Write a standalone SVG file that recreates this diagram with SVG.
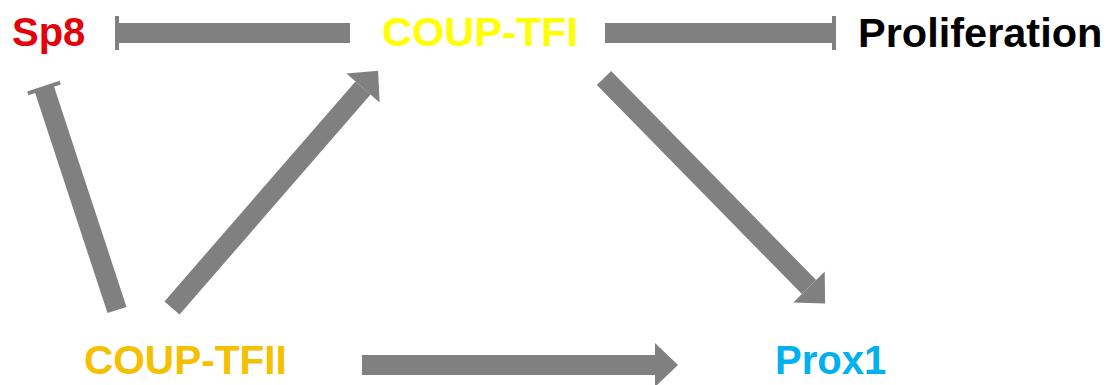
<svg xmlns="http://www.w3.org/2000/svg" width="1114" height="385" viewBox="0 0 1114 385">
<style>
  .lbl { font-family: "Liberation Sans", Arial, sans-serif; font-weight: bold; }
  .conn { stroke: #808080; stroke-width: 20; fill: none; stroke-linecap: butt; }
</style>
<defs>
  <marker id="arrow" markerUnits="userSpaceOnUse" markerWidth="26" markerHeight="46" refX="0" refY="22" orient="auto" overflow="visible">
    <path d="M0,0 L23,22 L0,44 Z" fill="#808080"/>
  </marker>
  <marker id="tee" markerUnits="userSpaceOnUse" markerWidth="6" markerHeight="36" refX="2" refY="17" orient="auto" overflow="visible">
    <path d="M0,0 H4 V34 H0 Z" fill="#808080"/>
  </marker>
</defs>
<rect width="1114" height="385" fill="#ffffff"/>
<g id="connectors">
  <line class="conn" x1="350" y1="33" x2="117" y2="33" marker-end="url(#tee)"/>
  <line class="conn" x1="605" y1="33" x2="834" y2="33" marker-end="url(#tee)"/>
  <line class="conn" x1="117" y1="310" x2="44" y2="88" marker-end="url(#tee)"/>
  <line class="conn" x1="172" y1="308" x2="363" y2="88" marker-end="url(#arrow)"/>
  <line class="conn" x1="604" y1="78" x2="809" y2="287" marker-end="url(#arrow)"/>
  <line class="conn" x1="362" y1="365" x2="655" y2="365" marker-end="url(#arrow)"/>
</g>
<g id="node-sp8"><text class="lbl" x="12" y="46" font-size="40" fill="#e3000b">Sp8</text></g>
<g id="node-couptfi"><text class="lbl" x="382" y="46" font-size="41.5" fill="#ffff00">COUP-TFI</text></g>
<g id="node-proliferation"><text class="lbl" x="858" y="47" font-size="41.5" fill="#000000">Proliferation</text></g>
<g id="node-couptfii"><text class="lbl" x="84" y="374" font-size="40.6" fill="#f5c000">COUP-TFII</text></g>
<g id="node-prox1"><text class="lbl" x="775" y="374" font-size="40" fill="#00b0f0">Prox1</text></g>
</svg>
